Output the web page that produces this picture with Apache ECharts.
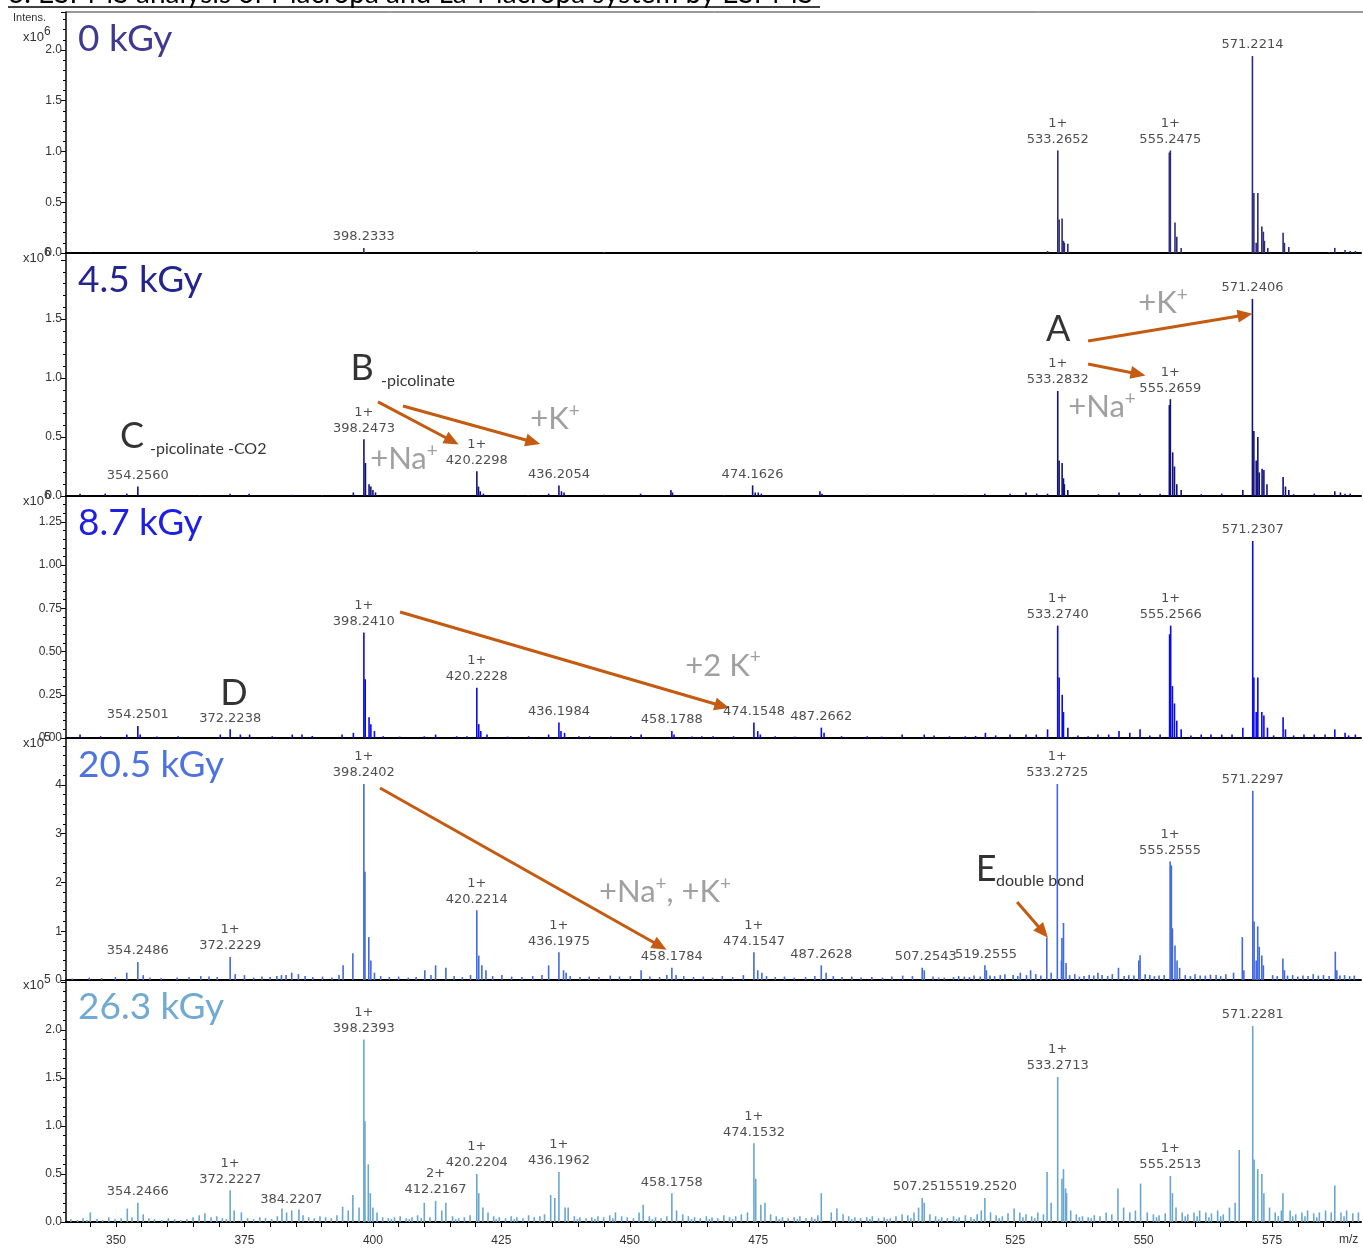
<!DOCTYPE html>
<html><head><meta charset="utf-8">
<script src="https://cdn.jsdelivr.net/npm/echarts@6/dist/echarts.min.js"></script>
<style>html,body{margin:0;padding:0;background:#fff}#c{width:1363px;height:1249px}</style>
</head><body><div id="c"></div>
<script>
// ---------------- DATA ----------------
const panelNames = ['0 kGy', '4.5 kGy', '8.7 kGy', '20.5 kGy', '26.3 kGy'];
const expLabels = ['6', '6', '6', '5', '5'];
const xTickValues = [345,350,355,360,365,370,375,380,385,390,395,400,405,410,415,420,425,430,435,440,445,450,455,460,465,470,475,480,485,490,495,500,505,510,515,520,525,530,535,540,545,550,555,560,565,570,575,580,585,590];
const xLabelValues = [350, 375, 400, 425, 450, 475, 500, 525, 550, 575];

// peaks: [m/z, intensity]
const peaks0 = [[345.0,0.005],[398.23,0.05],[420.2,0.015],[445.0,0.01],[531.3,0.02],[533.29,1.01],[533.55,0.33],[534.13,0.34],[534.4,0.12],[534.57,0.10],[535.24,0.09],[555.0,0.99],[555.2,1.01],[556.1,0.30],[556.45,0.16],[557.3,0.05],[571.17,1.94],[571.45,0.59],[571.9,0.10],[572.22,0.59],[573.0,0.26],[573.3,0.21],[573.5,0.12],[574.16,0.05],[577.14,0.20],[577.4,0.10],[578.25,0.06],[586.1,0.01],[587.2,0.05],[589.2,0.03],[590.2,0.02],[591.2,0.02]];
const peaks1 = [[343.0,0.02],[347.9,0.02],[352.1,0.02],[354.25,0.08],[372.2,0.02],[375.9,0.02],[396.2,0.03],[398.25,0.48],[398.55,0.28],[399.25,0.10],[399.6,0.08],[400.0,0.05],[400.5,0.03],[413.9,0.01],[420.23,0.21],[420.55,0.08],[420.9,0.04],[421.5,0.02],[434.2,0.02],[436.2,0.09],[436.7,0.04],[437.2,0.03],[445.0,0.01],[452.1,0.02],[458.0,0.05],[458.3,0.03],[473.9,0.09],[474.4,0.03],[475.0,0.03],[475.6,0.02],[487.0,0.04],[487.4,0.02],[519.1,0.02],[524.0,0.02],[527.1,0.03],[529.2,0.02],[531.3,0.02],[533.28,0.89],[533.55,0.30],[534.13,0.28],[534.4,0.15],[534.57,0.10],[535.24,0.05],[545.2,0.03],[549.3,0.02],[553.2,0.02],[555.0,0.77],[555.2,0.82],[555.65,0.37],[556.0,0.25],[556.45,0.10],[557.3,0.05],[569.3,0.05],[571.17,1.67],[571.45,0.55],[571.9,0.30],[572.22,0.50],[572.5,0.20],[573.05,0.23],[573.4,0.22],[574.0,0.10],[577.14,0.16],[577.6,0.08],[578.25,0.05],[587.2,0.04],[588.3,0.03],[589.2,0.02],[590.2,0.02]];
const peaks2 = [[343.0,0.02],[352.1,0.02],[354.25,0.07],[354.7,0.02],[370.3,0.02],[372.22,0.05],[374.2,0.02],[376.0,0.02],[384.3,0.02],[386.2,0.02],[394.0,0.02],[396.2,0.03],[398.24,0.61],[398.5,0.34],[399.25,0.12],[399.6,0.08],[400.3,0.04],[410.0,0.01],[412.2,0.02],[418.3,0.01],[420.22,0.29],[420.6,0.08],[421.0,0.04],[422.2,0.02],[430.3,0.01],[434.2,0.02],[436.2,0.09],[436.6,0.04],[437.3,0.03],[442.2,0.01],[452.2,0.02],[458.18,0.04],[458.6,0.02],[464.0,0.01],[470.2,0.01],[474.15,0.09],[474.9,0.04],[475.4,0.02],[487.27,0.06],[487.8,0.03],[496.2,0.01],[503.0,0.02],[507.3,0.02],[512.2,0.01],[519.2,0.03],[524.0,0.02],[527.1,0.02],[531.3,0.05],[533.27,0.65],[533.55,0.35],[534.15,0.25],[534.4,0.15],[535.25,0.06],[539.2,0.01],[543.2,0.02],[545.2,0.04],[547.3,0.03],[549.3,0.05],[553.2,0.02],[555.05,0.60],[555.26,0.65],[555.6,0.30],[556.0,0.20],[556.45,0.10],[557.3,0.05],[561.2,0.02],[565.2,0.02],[569.3,0.06],[571.23,1.14],[571.45,0.35],[571.9,0.15],[572.22,0.35],[573.0,0.15],[573.4,0.13],[574.1,0.06],[577.14,0.12],[577.6,0.05],[581.2,0.02],[585.3,0.02],[587.2,0.05],[589.2,0.03],[591.2,0.02]];
const peaks3 = [[352.1,0.15],[354.25,0.37],[355.3,0.10],[372.22,0.47],[373.2,0.12],[375.0,0.10],[382.2,0.10],[384.2,0.15],[385.5,0.12],[394.2,0.30],[396.1,0.55],[398.24,4.02],[398.45,2.22],[399.2,0.88],[399.6,0.40],[400.3,0.15],[410.1,0.20],[412.2,0.30],[414.2,0.25],[420.22,1.43],[420.6,0.50],[421.2,0.30],[422.0,0.20],[434.2,0.30],[436.2,0.57],[437.1,0.20],[437.6,0.15],[452.2,0.20],[458.18,0.25],[459.0,0.10],[472.1,0.10],[474.15,0.57],[474.9,0.20],[475.7,0.15],[487.26,0.30],[488.2,0.15],[506.9,0.25],[507.3,0.20],[519.1,0.30],[519.4,0.20],[526.0,0.15],[528.0,0.20],[531.15,0.87],[532.0,0.15],[533.2,4.02],[534.0,0.40],[534.1,0.86],[534.4,1.17],[534.9,0.35],[541.1,0.15],[545.1,0.25],[549.05,0.40],[549.3,0.51],[555.15,2.43],[555.4,2.35],[555.6,1.06],[556.1,0.71],[556.5,0.40],[557.0,0.25],[569.2,0.88],[569.5,0.20],[571.24,3.88],[571.5,1.20],[571.9,0.40],[572.2,1.10],[572.5,0.68],[573.0,0.50],[573.3,0.30],[577.1,0.44],[577.4,0.20],[587.3,0.58],[587.6,0.20]];
const peaks4 = [[345.0,0.10],[352.2,0.14],[354.25,0.20],[355.3,0.08],[366.2,0.07],[367.3,0.09],[372.22,0.33],[373.0,0.12],[374.4,0.10],[382.3,0.14],[383.2,0.10],[384.2,0.12],[385.6,0.13],[394.1,0.16],[395.2,0.12],[396.1,0.28],[397.3,0.15],[398.24,1.90],[398.45,1.05],[399.1,0.60],[399.5,0.30],[400.0,0.15],[400.8,0.10],[410.0,0.20],[412.2,0.22],[413.4,0.12],[414.2,0.20],[420.22,0.50],[420.6,0.30],[421.4,0.15],[422.4,0.10],[434.6,0.28],[435.4,0.25],[436.2,0.52],[437.4,0.15],[438.0,0.15],[447.2,0.10],[451.8,0.10],[452.6,0.18],[458.18,0.30],[459.1,0.12],[474.15,0.82],[474.5,0.45],[475.5,0.18],[476.3,0.20],[487.26,0.30],[490.3,0.14],[506.2,0.15],[506.9,0.25],[507.3,0.20],[518.4,0.12],[519.1,0.25],[524.8,0.14],[531.2,0.52],[532.0,0.20],[533.27,1.51],[534.1,0.45],[534.4,0.55],[534.8,0.35],[535.0,0.30],[545.0,0.35],[549.4,0.40],[555.2,0.48],[555.6,0.30],[566.7,0.15],[567.8,0.20],[568.6,0.75],[571.23,2.04],[571.5,0.65],[572.2,0.55],[573.0,0.50],[573.4,0.30],[577.1,0.30],[587.2,0.38]];

// small background peaks
const grass1 = [[349.0,0.008],[366.3,0.008],[384.2,0.01],[390.1,0.008],[430.2,0.008],[468.3,0.008],[496.2,0.01],[503.1,0.01],[509.2,0.01],[515.3,0.01],[541.2,0.015],[561.2,0.015],[565.2,0.02],[579.2,0.015],[583.2,0.02]];
const grass2 = [[347.0,0.01],[358.0,0.008],[362.1,0.01],[380.4,0.01],[388.2,0.012],[402.0,0.01],[405.2,0.008],[416.3,0.01],[426.2,0.008],[440.1,0.01],[446.3,0.008],[450.2,0.012],[462.1,0.008],[466.2,0.01],[478.3,0.01],[482.1,0.008],[491.2,0.01],[499.0,0.008],[509.2,0.015],[515.3,0.01],[517.3,0.012],[521.2,0.015],[529.1,0.02],[537.2,0.015],[541.1,0.02],[551.2,0.015],[559.2,0.015],[563.1,0.02],[567.2,0.02],[575.3,0.015],[579.2,0.015],[583.2,0.02],[589.9,0.015]];
const grass3 = [[341.5,0.03],[344.8,0.05],[347.2,0.04],[349.9,0.06],[356.6,0.05],[358.8,0.04],[361.9,0.05],[364.2,0.06],[366.5,0.08],[368.1,0.07],[369.7,0.06],[376.8,0.05],[378.4,0.07],[380.0,0.06],[381.3,0.08],[383.1,0.10],[386.8,0.08],[388.3,0.06],[390.2,0.07],[392.0,0.05],[393.4,0.10],[401.5,0.08],[403.2,0.06],[405.0,0.07],[406.9,0.05],[408.4,0.06],[411.3,0.10],[415.8,0.08],[417.4,0.06],[419.0,0.10],[423.3,0.08],[425.1,0.10],[427.0,0.07],[429.0,0.06],[431.1,0.08],[432.9,0.10],[438.4,0.08],[440.3,0.06],[442.1,0.07],[444.0,0.06],[446.2,0.09],[448.0,0.07],[450.1,0.08],[453.9,0.07],[455.8,0.06],[457.2,0.10],[460.5,0.08],[462.4,0.06],[464.3,0.07],[466.1,0.05],[468.0,0.08],[470.0,0.06],[476.6,0.08],[478.3,0.06],[480.1,0.07],[482.0,0.05],[484.2,0.06],[486.0,0.08],[489.6,0.08],[491.3,0.06],[493.2,0.07],[495.0,0.05],[497.1,0.06],[499.2,0.05],[501.0,0.07],[503.1,0.09],[505.0,0.08],[509.0,0.07],[510.1,0.05],[511.2,0.05],[513.0,0.06],[514.0,0.08],[515.1,0.07],[516.1,0.06],[517.0,0.09],[518.2,0.07],[520.1,0.09],[521.0,0.08],[522.1,0.10],[523.0,0.12],[524.6,0.10],[525.5,0.08],[527.2,0.10],[529.0,0.12],[530.0,0.09],[535.6,0.10],[536.6,0.12],[537.5,0.07],[538.4,0.08],[539.4,0.10],[540.3,0.09],[541.9,0.10],[543.0,0.08],[543.9,0.12],[546.2,0.08],[547.1,0.10],[548.1,0.09],[550.3,0.12],[551.2,0.10],[552.1,0.08],[553.0,0.09],[554.0,0.10],[558.1,0.10],[559.1,0.08],[560.0,0.12],[561.0,0.09],[562.0,0.09],[563.0,0.11],[564.1,0.10],[565.0,0.08],[566.0,0.12],[567.5,0.15],[575.1,0.10],[576.0,0.08],[578.0,0.09],[579.0,0.10],[580.0,0.07],[581.0,0.09],[582.0,0.08],[583.0,0.12],[584.0,0.09],[585.0,0.10],[586.1,0.08],[588.2,0.09],[589.1,0.10],[590.1,0.08],[591.0,0.09]];
const grass4 = [[341.2,0.03],[342.5,0.02],[343.6,0.04],[344.3,0.02],[346.3,0.03],[347.4,0.02],[348.6,0.05],[349.8,0.03],[351.0,0.04],[353.1,0.05],[356.4,0.04],[357.5,0.03],[358.9,0.02],[360.2,0.04],[361.4,0.03],[362.6,0.02],[363.8,0.03],[365.0,0.05],[368.5,0.05],[369.6,0.06],[370.7,0.04],[371.5,0.03],[375.6,0.04],[376.8,0.03],[378.0,0.05],[379.1,0.04],[380.3,0.03],[381.4,0.06],[386.4,0.07],[387.5,0.05],[388.6,0.04],[389.7,0.06],[390.8,0.05],[391.9,0.04],[393.0,0.07],[401.9,0.05],[403.0,0.04],[403.6,0.03],[404.2,0.05],[405.3,0.06],[406.5,0.04],[407.1,0.03],[407.6,0.05],[408.7,0.07],[409.4,0.04],[411.1,0.05],[415.5,0.06],[416.1,0.03],[416.7,0.04],[417.8,0.05],[418.9,0.07],[423.5,0.06],[424.0,0.03],[424.6,0.05],[425.8,0.04],[426.9,0.06],[427.5,0.03],[428.0,0.05],[429.2,0.04],[430.3,0.07],[431.4,0.05],[432.5,0.06],[433.4,0.08],[439.2,0.06],[439.8,0.03],[440.3,0.05],[441.5,0.04],[442.6,0.05],[443.2,0.03],[443.8,0.06],[444.9,0.05],[446.1,0.07],[446.7,0.04],[448.4,0.06],[449.5,0.05],[450.7,0.04],[453.8,0.06],[454.4,0.03],[455.0,0.05],[456.1,0.04],[457.2,0.06],[460.3,0.08],[461.4,0.06],[462.0,0.03],[462.6,0.05],[463.7,0.04],[464.9,0.06],[465.5,0.03],[466.0,0.05],[467.1,0.04],[468.3,0.07],[469.4,0.05],[470.0,0.03],[470.6,0.06],[471.7,0.08],[472.9,0.10],[477.4,0.08],[478.5,0.06],[479.1,0.03],[479.7,0.05],[480.8,0.04],[482.0,0.05],[482.6,0.03],[483.1,0.06],[484.3,0.04],[485.4,0.05],[486.0,0.03],[486.6,0.07],[489.2,0.10],[491.5,0.08],[492.6,0.06],[493.2,0.03],[493.8,0.05],[494.9,0.04],[496.1,0.05],[496.7,0.03],[497.2,0.06],[498.4,0.04],[499.5,0.05],[500.1,0.03],[500.7,0.04],[501.8,0.06],[503.0,0.08],[504.1,0.07],[504.7,0.04],[505.3,0.10],[508.4,0.08],[509.5,0.06],[510.1,0.03],[510.7,0.05],[511.8,0.04],[513.0,0.06],[513.6,0.03],[514.1,0.05],[515.3,0.07],[516.4,0.05],[517.0,0.03],[517.6,0.08],[520.2,0.10],[521.3,0.07],[521.9,0.04],[522.5,0.06],[523.6,0.09],[525.9,0.10],[526.5,0.05],[527.1,0.08],[528.2,0.06],[528.8,0.04],[529.4,0.10],[530.5,0.08],[535.8,0.12],[536.9,0.08],[537.5,0.05],[538.1,0.06],[539.2,0.05],[539.8,0.04],[540.4,0.07],[541.5,0.06],[542.7,0.10],[543.8,0.08],[546.1,0.15],[547.3,0.10],[548.4,0.12],[550.7,0.10],[551.9,0.08],[552.5,0.05],[553.0,0.07],[554.2,0.09],[556.3,0.15],[557.5,0.10],[558.1,0.06],[558.6,0.08],[559.8,0.10],[560.4,0.06],[560.9,0.12],[562.1,0.10],[562.7,0.05],[563.2,0.09],[564.4,0.12],[565.0,0.06],[565.5,0.08],[574.5,0.15],[575.6,0.10],[576.2,0.06],[576.8,0.12],[578.5,0.12],[579.0,0.06],[579.6,0.08],[580.8,0.10],[581.4,0.06],[581.9,0.12],[583.1,0.09],[583.7,0.05],[584.2,0.10],[585.4,0.12],[586.5,0.10],[588.4,0.10],[589.0,0.06],[589.5,0.12],[590.7,0.09],[591.8,0.10]];

// peak labels: [m/z, intensity, text]
const labels0 = [[398.23,0.05,'398.2333'],[533.29,1.01,'1+\n533.2652'],[555.2,1.01,'1+\n555.2475'],[571.17,1.94,'571.2214']];
const labels1 = [[354.25,0.08,'354.2560'],[398.25,0.48,'1+\n398.2473'],[420.23,0.21,'1+\n420.2298'],[436.2,0.09,'436.2054'],[473.9,0.09,'474.1626'],[533.28,0.89,'1+\n533.2832'],[555.2,0.82,'1+\n555.2659'],[571.17,1.67,'571.2406']];
const labels2 = [[354.25,0.07,'354.2501'],[372.22,0.05,'372.2238'],[398.24,0.61,'1+\n398.2410'],[420.22,0.29,'1+\n420.2228'],[436.2,0.09,'436.1984'],[458.18,0.04,'458.1788'],[474.15,0.09,'474.1548'],[487.27,0.06,'487.2662'],[533.27,0.65,'1+\n533.2740'],[555.26,0.65,'1+\n555.2566'],[571.23,1.14,'571.2307']];
const labels3 = [[354.25,0.37,'354.2486'],[372.22,0.47,'1+\n372.2229'],[398.24,4.02,'1+\n398.2402'],[420.22,1.43,'1+\n420.2214'],[436.2,0.57,'1+\n436.1975'],[458.18,0.25,'458.1784'],[474.15,0.57,'1+\n474.1547'],[487.26,0.30,'487.2628'],[507.6,0.25,'507.2543'],[519.3,0.30,'519.2555'],[533.2,4.02,'1+\n533.2725'],[555.15,2.43,'1+\n555.2555'],[571.24,3.88,'571.2297']];
const labels4 = [[354.25,0.20,'354.2466'],[372.22,0.33,'1+\n372.2227'],[384.1,0.12,'384.2207'],[398.24,1.90,'1+\n398.2393'],[412.2,0.22,'2+\n412.2167'],[420.22,0.50,'1+\n420.2204'],[436.2,0.52,'1+\n436.1962'],[458.18,0.30,'458.1758'],[474.15,0.82,'1+\n474.1532'],[507.2,0.25,'507.2515'],[519.3,0.25,'519.2520'],[533.27,1.51,'1+\n533.2713'],[555.2,0.48,'1+\n555.2513'],[571.23,2.04,'571.2281']];

// ---------------- LAYOUT / STYLE ----------------
const XMIN = 340.27, XMAX = 592.3;
const tops = [12, 253, 496, 738, 980];
const bottoms = [253, 496, 738, 980, 1222];
const yMax = [2.374, 2.059, 1.40, 4.964, 2.52];
const yInt = [0.5, 0.5, 0.25, 1, 0.5];
const yDec = [1, 1, 2, 0, 1];
const barColors = ['#2f2b7c', '#12127c', '#0a0aee', '#4169e1', '#6aa7cf'];
const nameColors = ['#3f3a8f', '#24248f', '#1e1ee4', '#4e73de', '#71aad3'];
const peakSets = [peaks0.concat([]), peaks1.concat(grass1), peaks2.concat(grass2), peaks3.concat(grass3), peaks4.concat(grass4)];
const labelSets = [labels0, labels1, labels2, labels3, labels4];

const ORANGE = '#c55a11', GRAY = '#888888';
const arrows = {
  1: [[[539.19,1.314],[569.74,1.534]], [[539.19,1.119],[548.92,1.034]], [[400.99,0.797],[415.40,0.466]], [[405.86,0.763],[431.16,0.458]]],
  2: [[[405.28,0.729],[467.95,0.185]]],
  3: [[[401.38,3.938],[455.88,0.697]], [[525.37,1.60],[530.43,0.985]]]
};
const notes = {
  1: [[533.35,1.415,'A','big'],[553.78,1.644,'{m|+K}{s|+}','gray'],[541.91,0.763,'{m|+Na}{s|+}','gray'],
      [397.88,1.085,'B','big'],[401.58,0.975,'-picolinate','small'],[435.45,0.661,'{m|+K}{s|+}','gray'],[406.05,0.322,'{m|+Na}{s|+}','gray'],
      [353.11,0.508,'C','big'],[356.62,0.398,'-picolinate -CO2','small']],
  2: [[468.14,0.428,'{m|+2 K}{s|+}','gray'],[372.97,0.260,'D','big']],
  3: [[456.85,1.826,'{m|+Na}{s|+}{m|, +K}{s|+}','gray'],[519.33,2.277,'E','big'],[521.28,2.031,'double bond','small']]
};

const grids = [], xAxes = [], yAxes = [], series = [];
for (let i = 0; i < 5; i++) {
  grids.push({ left: 66, right: 2, top: tops[i], height: bottoms[i] - tops[i] });
  const last = i === 4;
  xAxes.push({
    gridIndex: i, type: 'value', min: XMIN, max: XMAX,
    axisLine: { show: true, onZero: false, lineStyle: { color: '#000', width: 2 } },
    axisTick: last ? { show: true, customValues: xTickValues, length: 5, lineStyle: { color: '#000', width: 1 } } : { show: false },
    axisLabel: last ? { show: true, customValues: xLabelValues, fontFamily: 'Liberation Sans', fontSize: 12, color: '#333', margin: 13 } : { show: false },
    splitLine: { show: false }
  });
  const dec = yDec[i], itv = yInt[i], ym = yMax[i];
  yAxes.push({
    gridIndex: i, type: 'value', min: 0, max: ym, interval: itv,
    axisLine: { show: true, lineStyle: { color: '#000', width: 1.5 } },
    axisTick: { show: true, length: 5, lineStyle: { color: '#000', width: 1 } },
    minorTick: { show: true, splitNumber: 5, length: 3, lineStyle: { color: '#000', width: 1 } },
    splitLine: { show: false },
    axisLabel: {
      fontFamily: 'Liberation Sans', fontSize: 12, color: '#333', margin: 4,
      formatter: v => { const r = v / itv; return (Math.abs(r - Math.round(r)) < 1e-6 && v < ym * 0.96) ? v.toFixed(dec) : ''; }
    }
  });
  const ser = {
    type: 'bar', xAxisIndex: i, yAxisIndex: i, barWidth: 1.6, data: peakSets[i],
    itemStyle: { color: barColors[i] }, silent: true, animation: false
  };
  if (arrows[i]) {
    ser.markLine = {
      silent: true, animation: false, symbol: ['none', 'triangle'], symbolSize: [13, 15],
      lineStyle: { color: ORANGE, width: 3, type: 'solid' }, itemStyle: { color: ORANGE },
      label: { show: false },
      data: arrows[i].map(a => [{ coord: a[0] }, { coord: a[1] }])
    };
  }
  series.push(ser);
  series.push({
    type: 'scatter', xAxisIndex: i, yAxisIndex: i, symbolSize: 0, silent: true, animation: false, z: 5,
    data: labelSets[i].map(l => ({ value: [l[0], l[1]], label: { formatter: l[2] } })),
    label: { show: true, position: 'top', distance: 3, fontFamily: 'DejaVu Sans', fontSize: 13, lineHeight: 16, color: '#222', align: 'center' }
  });
  if (notes[i]) {
    const rich = {
      m: { fontFamily: 'Lato', fontSize: 31, color: GRAY, verticalAlign: 'bottom', lineHeight: 34 },
      s: { fontFamily: 'Lato', fontSize: 19, color: GRAY, verticalAlign: 'top', lineHeight: 19 }
    };
    series.push({
      type: 'scatter', xAxisIndex: i, yAxisIndex: i, symbolSize: 0, silent: true, animation: false, z: 6,
      data: notes[i].map(n => {
        let label;
        if (n[3] === 'big') label = { show: true, formatter: n[2], position: 'inside', fontFamily: 'Lato', fontSize: 36, color: '#000' };
        else if (n[3] === 'small') label = { show: true, formatter: n[2], position: 'right', distance: 0, fontFamily: 'Lato', fontSize: 16, color: '#000' };
        else label = { show: true, formatter: n[2], position: 'inside', rich: rich };
        return { value: [n[0], n[1]], label: label };
      })
    });
  }
}

const graphics = [
  { type: 'text', left: 8, top: -20, style: { text: '3. ESI-MS analysis of Macropa and La-Macropa system by ESI-MS', fontFamily: 'Lato', fontSize: 28, fill: '#000' } },
  { type: 'line', shape: { x1: 8, y1: 7, x2: 820, y2: 7 }, style: { stroke: '#000', lineWidth: 1.5 } },
  { type: 'line', shape: { x1: 66, y1: 12, x2: 1363, y2: 12 }, style: { stroke: '#333', lineWidth: 1 } },
  { type: 'text', left: 13, top: 12, style: { text: 'Intens.', fontFamily: 'Liberation Sans', fontSize: 11, fill: '#333' } },
  { type: 'text', left: 1339, top: 1234, style: { text: 'm/z', fontFamily: 'Liberation Sans', fontSize: 12, fill: '#333' } }
];
for (let i = 0; i < 5; i++) {
  const base = i === 0 ? 31 : tops[i] - 1;
  graphics.push({ type: 'text', left: 23, top: base, style: { text: 'x10', fontFamily: 'Liberation Sans', fontSize: 13, fill: '#333' } });
  graphics.push({ type: 'text', left: 44, top: base - 5, style: { text: expLabels[i], fontFamily: 'Liberation Sans', fontSize: 12, fill: '#333' } });
  graphics.push({ type: 'text', left: 78, top: tops[i] + 9, style: { text: panelNames[i], fontFamily: 'Lato', fontSize: 37, fill: nameColors[i] } });
}

const chart = echarts.init(document.getElementById('c'), null, { renderer: 'canvas' });
chart.setOption({
  animation: false, backgroundColor: '#fff',
  grid: grids, xAxis: xAxes, yAxis: yAxes, series: series, graphic: graphics
});
</script></body></html>
